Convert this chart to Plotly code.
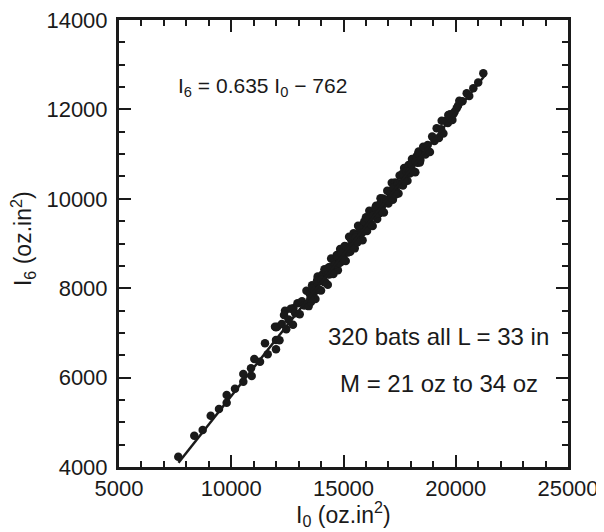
import plotly.graph_objects as go

# ---- data ----
i0_sparse_low = [7641, 8354, 8728, 9085, 9454, 9797, 9797, 10167, 10537, 10537,
                 10911, 10880, 11027, 11281, 11503, 11624, 11993, 11993, 11993,
                 11949, 12394, 12764]
i6_sparse_low = [4230, 4700, 4828, 5148, 5298, 5439, 5611, 5752, 5908, 6081,
                 6036, 6208, 6416, 6356, 6767, 6521, 6633, 7125, 6841,
                 7139, 7497, 7550]

i0_a = [12050, 12150, 12250, 12350, 12450, 12550, 12650, 12750, 12850, 12950,
        13050, 13150, 13250, 13350, 13450]
i6_a = [7140, 6833, 7197, 7400, 7084, 7297, 7541, 7184, 7438, 7661,
        7415, 7708, 7612, 7945, 7599]

i0_b = [13500, 13550, 13600, 13650, 13700, 13750, 13800, 13850, 13900, 13950,
        14000, 14050, 14100, 14150, 14200, 14250, 14300, 14350, 14400, 14450,
        14500, 14550, 14600, 14650, 14700, 14750, 14800, 14850, 14900, 14950,
        15000, 15050, 15100, 15150, 15200, 15250, 15300, 15350, 15400, 15450,
        15500, 15550, 15600, 15650, 15700, 15750, 15800, 15850, 15900, 15950,
        16000, 16050, 16100, 16150, 16200, 16250, 16300, 16350, 16400, 16450,
        16500, 16550, 16600, 16650, 16700, 16750, 16800, 16850, 16900, 16950,
        17000, 17050, 17100, 17150, 17200, 17250, 17300, 17350, 17400, 17450,
        17500, 17550, 17600, 17650, 17700, 17750, 17800, 17850, 17900, 17950,
        18000, 18050, 18100, 18150, 18200, 18250, 18300, 18350, 18400, 18450]
i6_b = [7871, 7692, 8064, 7866, 8048, 7759, 8021, 8263, 7965, 8166,
        7948, 8300, 8172, 8423, 8125, 8337, 8079, 8470, 8312, 8664,
        8456, 8317, 8599, 8491, 8743, 8404, 8666, 8878, 8590, 8811,
        8733, 8945, 8607, 8898, 8800, 9152, 8814, 9085, 9007, 9229,
        8891, 9172, 9084, 9396, 9088, 9259, 9401, 9073, 9405, 9326,
        9588, 9280, 9472, 9733, 9445, 9667, 9389, 9670, 9632, 9844,
        9546, 9827, 9679, 10011, 9813, 10004, 9696, 9978, 9910, 10181,
        9893, 10155, 10087, 10358, 9980, 10222, 10364, 10165, 10347, 10119,
        10521, 10342, 10514, 10296, 10688, 10489, 10621, 10403, 10755, 10566,
        10688, 10890, 10602, 10813, 10595, 10947, 10809, 11060, 10812, 10994]

i0_c = [13525, 13625, 13725, 13825, 13925, 14025, 14125, 14225, 14325, 14425,
        14525, 14625, 14725, 14825, 14925, 15025, 15125, 15225, 15325, 15425,
        15525, 15625, 15725, 15825, 15925, 16025, 16125, 16225, 16325, 16425,
        16525, 16625, 16725, 16825, 16925, 17025, 17125, 17225, 17325, 17425,
        17525, 17625, 17725, 17825, 17925, 18025, 18125, 18225, 18325, 18425]
i6_c = [7766, 7990, 7943, 8177, 7960, 8184, 8137, 8401, 8304, 8478,
        8321, 8535, 8708, 8562, 8775, 8619, 8932, 8886, 9119, 8933,
        9126, 9030, 9333, 9237, 9490, 9334, 9537, 9421, 9624, 9798,
        9671, 9885, 9708, 9962, 9955, 10169, 10022, 10246, 10099, 10333,
        10316, 10560, 10393, 10607, 10600, 10784, 10617, 10831, 11014, 10868]

i0_d = [18550, 18650, 18750, 18850, 18950, 19050, 19150, 19250, 19350, 19450,
        19550, 19650, 19750, 19850, 19950, 19374, 19668, 19900, 20042, 20100,
        20158, 20300, 20488, 20600, 20782, 21000, 21228]
i6_d = [11167, 10991, 11204, 11048, 11391, 11295, 11578, 11362, 11555, 11459,
        11742, 11696, 11889, 11763, 11946, 11747, 11875, 11900, 12025, 12080,
        12195, 12180, 12360, 12300, 12472, 12600, 12807]

fit_slope = 0.635
fit_intercept = -762
fit_x = [7650, 21300]

x_ticks = [5000, 10000, 15000, 20000, 25000]
x_tick_labels = ["5000", "10000", "15000", "20000", "25000"]
y_ticks = [4000, 6000, 8000, 10000, 12000, 14000]
y_tick_labels = ["4000", "6000", "8000", "10000", "12000", "14000"]

i0 = i0_sparse_low + i0_a + i0_b + i0_c + i0_d
i6 = i6_sparse_low + i6_a + i6_b + i6_c + i6_d

FONT = "Liberation Sans, Arial, Helvetica, sans-serif"
INK = "#1a1a1a"

fig = go.Figure()
fig.add_trace(go.Scatter(
    x=i0, y=i6, mode="markers",
    marker=dict(size=8.5, color=INK, line=dict(width=0)),
    showlegend=False, hoverinfo="skip"))
fig.add_trace(go.Scatter(
    x=fit_x, y=[fit_slope * v + fit_intercept for v in fit_x], mode="lines",
    line=dict(color=INK, width=2.5), showlegend=False, hoverinfo="skip"))

axis_common = dict(
    showgrid=False, zeroline=False, showline=True, linecolor=INK, linewidth=3,
    mirror="ticks", ticks="inside", tickcolor=INK, tickwidth=2, ticklen=12,
    tickfont=dict(family=FONT, size=22, color=INK), automargin=False,
    ticklabeloverflow="allow",
)
fig.update_xaxes(range=[5000, 25000], tickvals=x_ticks, ticktext=x_tick_labels,
                 minor=dict(ticks="inside", dtick=1000, ticklen=6, tickwidth=1.5, tickcolor=INK),
                 ticklabelstandoff=0, **axis_common)
fig.update_yaxes(range=[4000, 14000], tickvals=y_ticks, ticktext=y_tick_labels,
                 minor=dict(ticks="inside", dtick=500, ticklen=6, tickwidth=1.5, tickcolor=INK),
                 ticklabelstandoff=4, **axis_common)

title_font = dict(family=FONT, size=23, color=INK)
fig.add_annotation(x=0.499, y=-0.106, xref="paper", yref="paper", xanchor="center", yanchor="middle",
                   text="I<sub>0</sub> (oz.in<sup>2</sup>)", showarrow=False, font=title_font)
fig.add_annotation(x=-0.214, y=0.512, xref="paper", yref="paper", xanchor="center", yanchor="middle",
                   text="I<sub>6</sub> (oz.in<sup>2</sup>)", showarrow=False, font=title_font,
                   textangle=-90)

ann_font = dict(family=FONT, size=24, color=INK)
fig.add_annotation(x=7539, y=12501, xref="x", yref="y", xanchor="left", yanchor="middle",
                   text="I<sub>6</sub> = 0.635 I<sub>0</sub> − 762", showarrow=False,
                   font=dict(family=FONT, size=21, color=INK))
fig.add_annotation(x=19210, y=6915, xref="x", yref="y", xanchor="center", yanchor="middle",
                   text="320 bats all L = 33 in", showarrow=False, font=ann_font)
fig.add_annotation(x=19254, y=5857, xref="x", yref="y", xanchor="center", yanchor="middle",
                   text="M = 21 oz to 34 oz", showarrow=False, font=ann_font)

# the page body has an 8 px default margin; shrink the figure to compensate
fig.update_layout(
    width=596, height=524,
    margin=dict(l=111, r=36, t=12, b=65, pad=0),
    plot_bgcolor="white", paper_bgcolor="white",
    font=dict(family=FONT, color=INK),
)
fig.write_html("out.html")
